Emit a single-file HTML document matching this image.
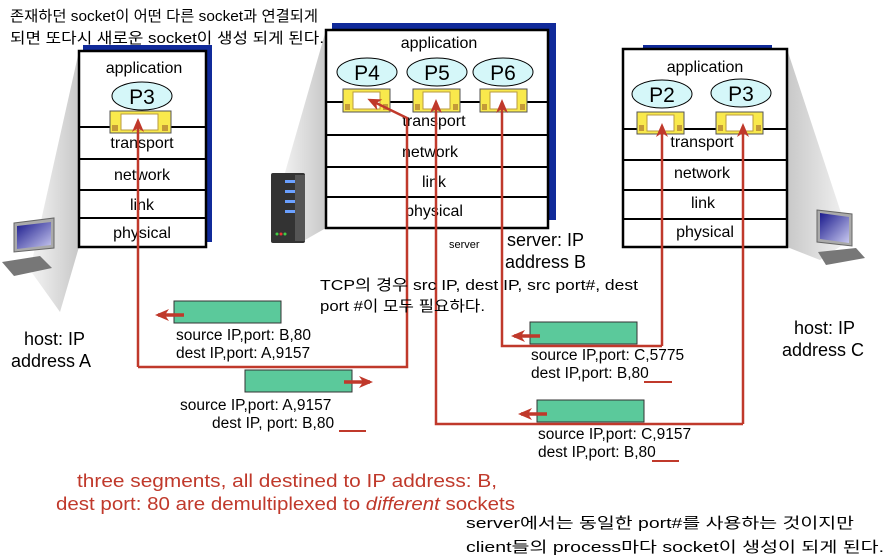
<!DOCTYPE html>
<html><head><meta charset="utf-8"><style>
html,body{margin:0;padding:0;background:#fff;}
svg{display:block;}
text{font-family:"Liberation Sans","Noto Sans CJK KR",sans-serif;}
</style></head><body>
<svg width="888" height="559" viewBox="0 0 888 559" xmlns="http://www.w3.org/2000/svg">
<defs>
<linearGradient id="g1" x1="1" y1="0" x2="0" y2="0"><stop offset="0" stop-color="#c8c8c8"/><stop offset="1" stop-color="#f4f4f4"/></linearGradient>
<linearGradient id="g2" x1="0" y1="0" x2="1" y2="0"><stop offset="0" stop-color="#c8c8c8"/><stop offset="1" stop-color="#f4f4f4"/></linearGradient>
<linearGradient id="scr" x1="0" y1="0" x2="1" y2="1"><stop offset="0" stop-color="#1a1a8c"/><stop offset="1" stop-color="#c8c8f0"/></linearGradient>
<marker id="ah" markerWidth="14" markerHeight="12" refX="11" refY="6" orient="auto" markerUnits="userSpaceOnUse"><path d="M0,0 L14,6 L0,12 L4,6 z" fill="#c0392b"/></marker>
</defs>
<polygon points="79,51 79,247 60,312 30,270" fill="url(#g1)"/>
<polygon points="326,30 326,228 305,240 280,190" fill="url(#g1)"/>
<polygon points="787,49 787,247 820,260 850,240" fill="url(#g2)"/>
<rect x="83" y="45" width="129" height="197" fill="#102a9a"/>
<rect x="79" y="51" width="127" height="196" fill="#fff" stroke="#000" stroke-width="2.5"/>
<g stroke="#000" stroke-width="2"><line x1="79" y1="127" x2="206" y2="127"/><line x1="79" y1="159" x2="206" y2="159"/><line x1="79" y1="190" x2="206" y2="190"/><line x1="79" y1="218" x2="206" y2="218"/></g>
<g font-size="16" text-anchor="middle" fill="#000">
<text x="144" y="73">application</text><text x="142" y="148">transport</text><text x="142" y="180">network</text><text x="142" y="210">link</text><text x="142" y="238">physical</text>
</g>
<ellipse cx="142" cy="96" rx="30" ry="14" fill="#d5f7f9" stroke="#000"/><text x="142" y="104" font-size="21" text-anchor="middle">P3</text>
<rect x="110" y="111" width="61" height="22" fill="#f9e94c" stroke="#555"/><rect x="121" y="114" width="37" height="16" fill="#fff" stroke="#b89a40"/><rect x="112" y="125" width="6" height="6" fill="#c49a38"/><rect x="162" y="125" width="6" height="6" fill="#c49a38"/>
<rect x="332" y="23" width="224" height="197" fill="#102a9a"/>
<rect x="326" y="30" width="222" height="198" fill="#fff" stroke="#000" stroke-width="2.5"/>
<g stroke="#000" stroke-width="2"><line x1="326" y1="102" x2="548" y2="102"/><line x1="326" y1="135" x2="548" y2="135"/><line x1="326" y1="167" x2="548" y2="167"/><line x1="326" y1="197" x2="548" y2="197"/></g>
<g font-size="16" text-anchor="middle">
<text x="439" y="48">application</text><text x="434" y="126">transport</text><text x="430" y="157">network</text><text x="434" y="187">link</text><text x="434" y="216">physical</text>
</g>
<ellipse cx="367" cy="72" rx="30" ry="14" fill="#d5f7f9" stroke="#000"/><text x="367" y="80" font-size="21" text-anchor="middle">P4</text>
<ellipse cx="437" cy="72" rx="30" ry="14" fill="#d5f7f9" stroke="#000"/><text x="437" y="80" font-size="21" text-anchor="middle">P5</text>
<ellipse cx="503" cy="72" rx="30" ry="14" fill="#d5f7f9" stroke="#000"/><text x="503" y="80" font-size="21" text-anchor="middle">P6</text>
<g>
<rect x="343" y="89" width="47" height="23" fill="#f9e94c" stroke="#555"/><rect x="353" y="92" width="27" height="17" fill="#fff" stroke="#b89a40"/><rect x="345" y="104" width="5" height="6" fill="#c49a38"/><rect x="383" y="104" width="5" height="6" fill="#c49a38"/>
<rect x="413" y="89" width="47" height="23" fill="#f9e94c" stroke="#555"/><rect x="423" y="92" width="27" height="17" fill="#fff" stroke="#b89a40"/><rect x="415" y="104" width="5" height="6" fill="#c49a38"/><rect x="453" y="104" width="5" height="6" fill="#c49a38"/>
<rect x="480" y="89" width="47" height="23" fill="#f9e94c" stroke="#555"/><rect x="490" y="92" width="27" height="17" fill="#fff" stroke="#b89a40"/><rect x="482" y="104" width="5" height="6" fill="#c49a38"/><rect x="520" y="104" width="5" height="6" fill="#c49a38"/>
</g>
<rect x="643" y="45" width="129" height="10" fill="#102a9a"/>
<rect x="623" y="49" width="164" height="198" fill="#fff" stroke="#000" stroke-width="2.5"/>
<g stroke="#000" stroke-width="2"><line x1="623" y1="129" x2="787" y2="129"/><line x1="623" y1="160" x2="787" y2="160"/><line x1="623" y1="190" x2="787" y2="190"/><line x1="623" y1="219" x2="787" y2="219"/></g>
<g font-size="16" text-anchor="middle">
<text x="705" y="72">application</text><text x="702" y="147">transport</text><text x="702" y="178">network</text><text x="703" y="208">link</text><text x="705" y="237">physical</text>
</g>
<ellipse cx="662" cy="94" rx="30" ry="14" fill="#d5f7f9" stroke="#000"/><text x="662" y="102" font-size="21" text-anchor="middle">P2</text>
<ellipse cx="741" cy="93" rx="30" ry="14" fill="#d5f7f9" stroke="#000"/><text x="741" y="101" font-size="21" text-anchor="middle">P3</text>
<rect x="637" y="112" width="47" height="22" fill="#f9e94c" stroke="#555"/><rect x="647" y="115" width="27" height="16" fill="#fff" stroke="#b89a40"/><rect x="639" y="125" width="5" height="6" fill="#c49a38"/><rect x="677" y="125" width="5" height="6" fill="#c49a38"/>
<rect x="716" y="112" width="47" height="22" fill="#f9e94c" stroke="#555"/><rect x="726" y="115" width="27" height="16" fill="#fff" stroke="#b89a40"/><rect x="718" y="125" width="5" height="6" fill="#c49a38"/><rect x="756" y="125" width="5" height="6" fill="#c49a38"/>
<g><polygon points="14,223 54,218 54,248 14,252" fill="#aaa" stroke="#666"/><polygon points="17,226 51,222 51,245 17,249" fill="url(#scr)"/><polygon points="2,262 40,256 52,268 14,276" fill="#777"/></g>
<g><polygon points="817,210 852,214 852,246 817,242" fill="#aaa" stroke="#666"/><polygon points="820,213 849,217 849,243 820,239" fill="url(#scr)"/><polygon points="818,252 856,248 865,258 826,265" fill="#777"/></g>
<g><rect x="271" y="173" width="34" height="70" rx="2" fill="#333"/><rect x="295" y="175" width="10" height="66" fill="#555"/>
<rect x="285" y="180" width="10" height="3" fill="#6aa0ff"/><rect x="285" y="190" width="10" height="3" fill="#6aa0ff"/><rect x="285" y="200" width="10" height="3" fill="#6aa0ff"/><rect x="285" y="210" width="10" height="3" fill="#6aa0ff"/>
<circle cx="277" cy="234" r="1.5" fill="#4c4"/><circle cx="281" cy="234" r="1.5" fill="#e33"/><circle cx="285" cy="234" r="1.5" fill="#4c4"/></g>
<g fill="none" stroke="#c0392b" stroke-width="2.5">
<polyline points="138,367 407,367 407,118 370,100" marker-end="url(#ah)"/>
<polyline points="138,367 138,121" marker-end="url(#ah)"/>
<polyline points="743,424 436,424 436,102" marker-end="url(#ah)"/>
<polyline points="743,424 743,126" marker-end="url(#ah)"/>
<polyline points="662,346 502,346 502,102" marker-end="url(#ah)"/>
<polyline points="662,346 662,126" marker-end="url(#ah)"/>
</g>
<g fill="#5bc99b" stroke="#333">
<rect x="174" y="301" width="107" height="22"/><rect x="245" y="370" width="107" height="22"/><rect x="530" y="322" width="107" height="22"/><rect x="537" y="400" width="107" height="22"/>
</g>
<g stroke="#c0392b" stroke-width="3.5">
<line x1="184" y1="315" x2="158" y2="315" marker-end="url(#ah)"/>
<line x1="344" y1="382" x2="370" y2="382" marker-end="url(#ah)"/>
<line x1="540" y1="336" x2="514" y2="336" marker-end="url(#ah)"/>
<line x1="547" y1="414" x2="521" y2="414" marker-end="url(#ah)"/>
</g>
<g stroke="#c0392b" stroke-width="2"><line x1="339" y1="431" x2="366" y2="431"/><line x1="644" y1="382" x2="672" y2="382"/><line x1="652" y1="461" x2="679" y2="461"/></g>
<g font-size="15.5">
<text x="176" y="340">source IP,port: B,80</text><text x="176" y="358">dest IP,port: A,9157</text>
<text x="180" y="410">source IP,port: A,9157</text><text x="212" y="428">dest IP, port: B,80</text>
<text x="531" y="360">source IP,port: C,5775</text><text x="531" y="378">dest IP,port: B,80</text>
<text x="538" y="439">source IP,port: C,9157</text><text x="538" y="457">dest IP,port: B,80</text>
</g>
<g font-size="18">
<text x="24" y="345">host: IP</text><text x="11" y="367">address A</text>
<text x="507" y="246">server: IP</text><text x="505" y="268">address B</text>
<text x="794" y="334">host: IP</text><text x="782" y="356">address C</text>
</g>
<text x="449" y="248" font-size="11">server</text>
<g font-size="15">
<text x="320" y="290" textLength="318" lengthAdjust="spacingAndGlyphs">TCP의 경우 src IP, dest IP, src port#, dest</text>
<text x="320" y="311" textLength="165" lengthAdjust="spacingAndGlyphs">port #이 모두 필요하다.</text>
<text x="10" y="21" textLength="308" lengthAdjust="spacingAndGlyphs">존재하던 socket이 어떤 다른 socket과 연결되게</text>
<text x="10" y="43" textLength="314" lengthAdjust="spacingAndGlyphs">되면 또다시 새로운 socket이 생성 되게 된다.</text>
<text x="466" y="528" textLength="388" lengthAdjust="spacingAndGlyphs">server에서는 동일한 port#를 사용하는 것이지만</text>
<text x="466" y="552" textLength="418" lengthAdjust="spacingAndGlyphs">client들의 process마다 socket이 생성이 되게 된다.</text>
</g>
<g font-size="18" fill="#c0392b">
<text x="77" y="487" textLength="420" lengthAdjust="spacingAndGlyphs">three segments, all destined to IP address: B,</text>
<text x="56" y="510" textLength="459" lengthAdjust="spacingAndGlyphs">dest port: 80 are demultiplexed to <tspan font-style="italic">different</tspan> sockets</text>
</g>
</svg>
</body></html>
